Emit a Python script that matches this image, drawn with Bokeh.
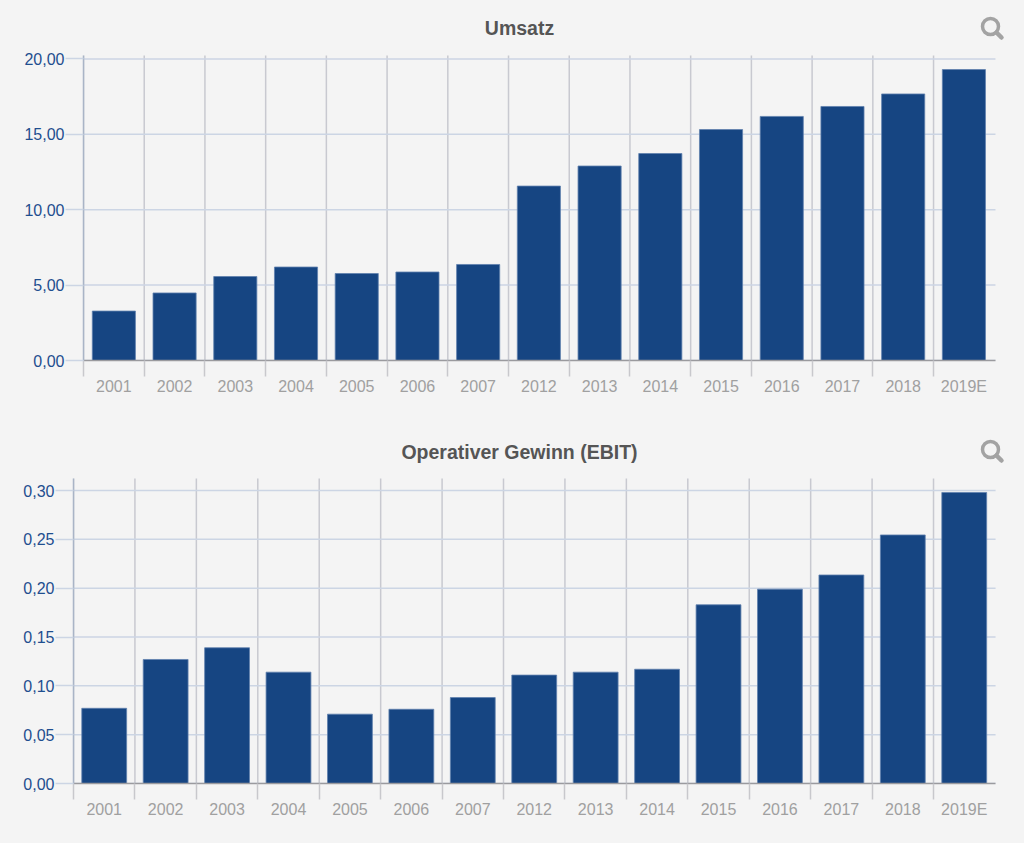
from bokeh.plotting import figure
from bokeh.models import ColumnDataSource, FixedTicker, Range1d, Label
from bokeh.embed import file_html
from bokeh.resources import INLINE

categories = ["2001", "2002", "2003", "2004", "2005", "2006", "2007", "2012",
              "2013", "2014", "2015", "2016", "2017", "2018", "2019E"]
umsatz = [3.28, 4.48, 5.57, 6.20, 5.77, 5.87, 6.37, 11.57,
          12.90, 13.73, 15.32, 16.19, 16.85, 17.68, 19.30]
ebit = [0.077, 0.127, 0.139, 0.114, 0.071, 0.076, 0.088, 0.111,
        0.114, 0.117, 0.183, 0.199, 0.2135, 0.2545, 0.298]
umsatz_ticks = [0, 5, 10, 15, 20]
umsatz_tick_labels = ["0,00", "5,00", "10,00", "15,00", "20,00"]
ebit_ticks = [0, 0.05, 0.10, 0.15, 0.20, 0.25, 0.30]
ebit_tick_labels = ["0,00", "0,05", "0,10", "0,15", "0,20", "0,25", "0,30"]

BG = "#f4f4f4"
BAR = "#164582"
FONT = "Liberation Sans"
WIDTH = 1024


def make_chart(title, values, yticks, ylabels, plot_top, plot_x_end, y_end, x_end, height,
               left, bottom, bar_w, title_y, icon_y):
    n = len(categories)
    centers = [i + 0.5 for i in range(n)]
    bounds = list(range(n))
    frame_h = height - bottom
    frame_w = WIDTH - left
    p = figure(width=WIDTH, height=height, output_backend="svg", toolbar_location=None,
               x_range=Range1d(0, x_end), y_range=Range1d(0, y_end),
               min_border_left=left, min_border_right=0,
               min_border_top=0, min_border_bottom=bottom,
               background_fill_color=BG, border_fill_color=BG, outline_line_color=None)
    p.grid.visible = False
    p.extra_x_ranges["px"] = Range1d(0, frame_w)
    p.extra_y_ranges["px"] = Range1d(frame_h, 0)

    # grid lines, kept inside the plot area
    p.segment(x0=bounds, x1=bounds, y0=0, y1=plot_top, line_color="#c8c9d0", line_width=1.5)
    p.segment(x0=0, x1=plot_x_end, y0=yticks, y1=yticks, line_color="#ccd5e4", line_width=1.5)

    src = ColumnDataSource(dict(x=centers, top=values, cat=categories))
    p.vbar(x="x", top="top", bottom=0, width=bar_w, source=src,
           fill_color=BAR, line_color="#5f80ad", line_width=0.8)

    xa = p.xaxis[0]
    xa.bounds = (0, plot_x_end)
    xa.ticker = FixedTicker(ticks=centers, minor_ticks=bounds)
    xa.major_label_overrides = {c: l for c, l in zip(centers, categories)}
    xa.major_tick_line_color = None
    xa.major_tick_in = 0
    xa.major_tick_out = 0
    xa.minor_tick_in = 0
    xa.minor_tick_out = 16
    xa.minor_tick_line_color = "#c8c8cc"
    xa.minor_tick_line_width = 1.5
    xa.axis_line_color = "#9a9a9e"
    xa.axis_line_width = 1.5
    xa.major_label_standoff = 1
    xa.major_label_text_color = "#a0a0a0"
    xa.major_label_text_font = FONT
    xa.major_label_text_font_size = "16px"

    ya = p.yaxis[0]
    ya.bounds = (0, plot_top)
    ya.ticker = FixedTicker(ticks=yticks)
    ya.major_label_overrides = {t: l for t, l in zip(yticks, ylabels)}
    ya.axis_line_color = "#a9b4c6"
    ya.axis_line_width = 1.5
    ya.major_tick_in = 0
    ya.major_tick_out = 18
    ya.major_tick_line_color = "#ccd5e4"
    ya.major_tick_line_width = 1.5
    ya.minor_tick_line_color = None
    ya.major_label_standoff = 1
    ya.major_label_text_color = "#1f4e8f"
    ya.major_label_text_font = FONT
    ya.major_label_text_font_size = "16px"

    p.add_layout(Label(x=519 - left, y=title_y, x_range_name="px", y_range_name="px", text=title,
                       text_align="center", text_baseline="middle", text_font=FONT,
                       text_font_style="bold", text_font_size="19.5px", text_color="#555555"))

    # magnifier icon
    cx = 990 - left
    p.scatter(x=[cx], y=[icon_y], marker="circle", size=16, fill_alpha=0, line_color="#a3a3a3",
              line_width=3.5, x_range_name="px", y_range_name="px")
    p.segment(x0=[cx + 6], y0=[icon_y + 6], x1=[cx + 11], y1=[icon_y + 11], line_color="#a3a3a3",
              line_width=4.5, line_cap="round", x_range_name="px", y_range_name="px")
    return p


p1 = make_chart("Umsatz", umsatz, umsatz_ticks, umsatz_tick_labels, 20.23, 15.02, 23.88, 15.498,
                420, 83, 60, 0.71, 27, 26)
p2 = make_chart("Operativer Gewinn (EBIT)", ebit, ebit_ticks, ebit_tick_labels, 0.3123, 15.01, 0.3717, 15.481,
                423, 73, 60, 0.73, 31, 29)

html = file_html([p1, p2], INLINE)
html = html.replace("<head>", f"<head><style>html,body{{background:{BG};}}</style>", 1)
open("out.html", "w").write(html)
